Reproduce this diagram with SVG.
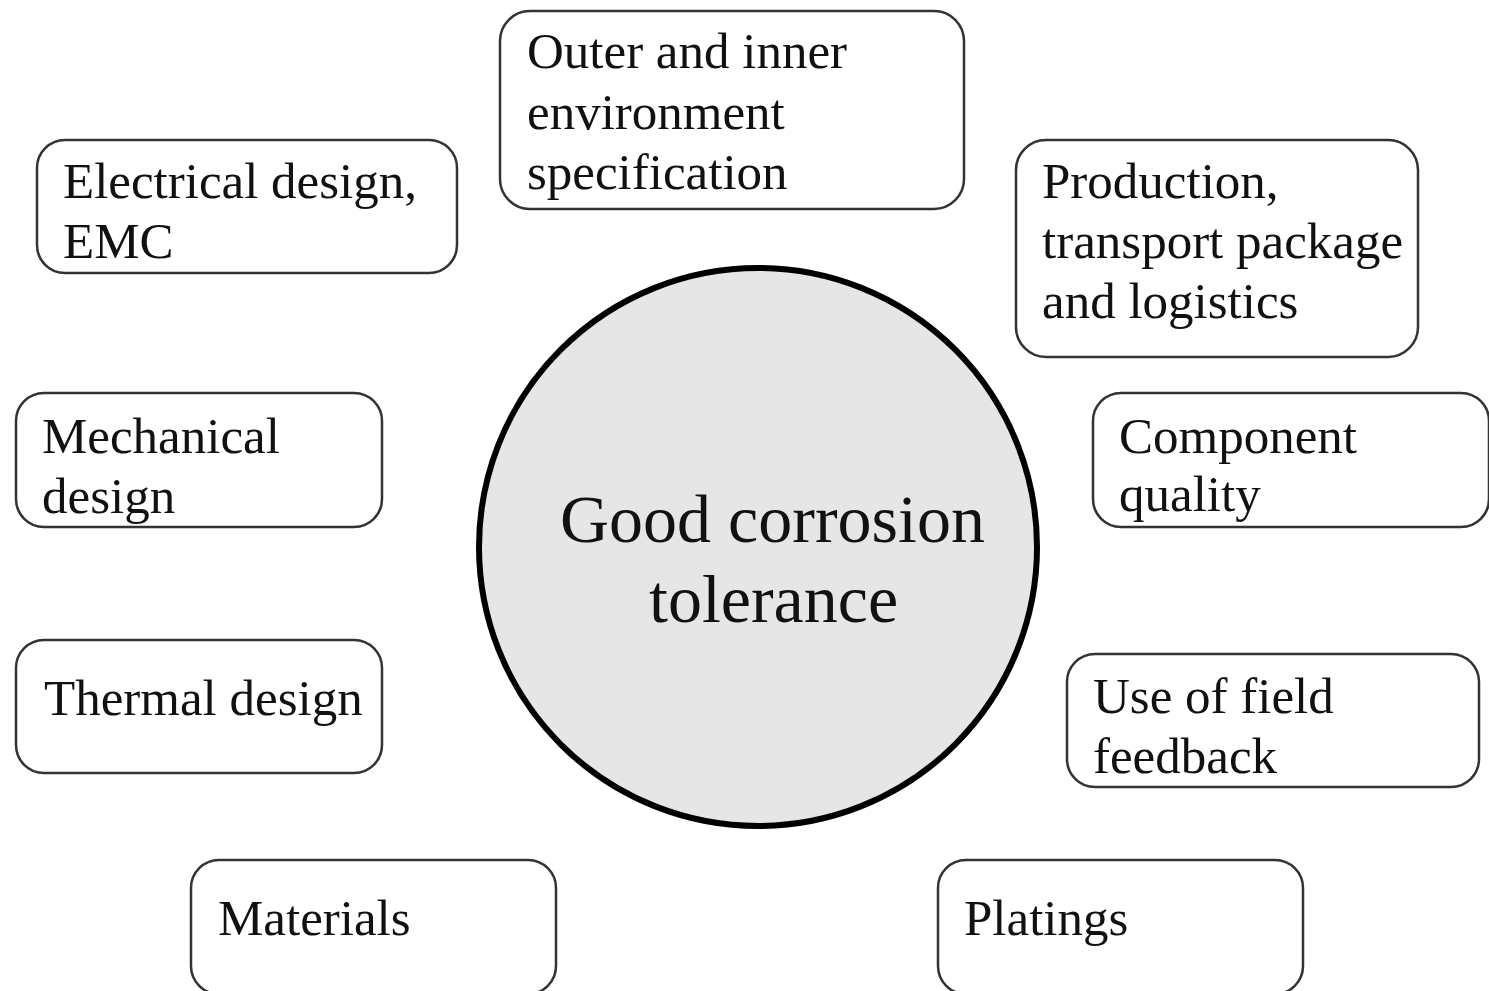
<svg xmlns="http://www.w3.org/2000/svg" width="1489" height="991" viewBox="0 0 1489 991">
<style>
.box{fill:#fff;stroke:#333;stroke-width:2.5}
.t{font-family:"Liberation Serif","Times New Roman",serif;font-size:51px;fill:#111}
.c{font-family:"Liberation Serif","Times New Roman",serif;font-size:68px;fill:#111}
</style>
<rect width="1489" height="991" fill="#fff"/>
<g id="connectors"></g>
<g id="center">
<circle cx="758" cy="547" r="279" fill="#e6e6e6" stroke="#000" stroke-width="6"/>
<text class="c" x="560" y="542">Good corrosion</text>
<text class="c" x="649" y="622">tolerance</text>
</g>
<g id="outer">
<rect class="box" x="500" y="11" width="464" height="198" rx="30"/>
<text class="t" x="527" y="68">Outer and inner</text>
<text class="t" x="527" y="129">environment</text>
<text class="t" x="527" y="189">specification</text>
</g>
<g id="electrical">
<rect class="box" x="37" y="140" width="420" height="133" rx="28"/>
<text class="t" x="63" y="198">Electrical design,</text>
<text class="t" x="63" y="258">EMC</text>
</g>
<g id="production">
<rect class="box" x="1016" y="140" width="402" height="217" rx="30"/>
<text class="t" x="1042" y="198">Production,</text>
<text class="t" x="1042" y="258">transport package</text>
<text class="t" x="1042" y="318">and logistics</text>
</g>
<g id="mechanical">
<rect class="box" x="16" y="393" width="366" height="134" rx="28"/>
<text class="t" x="42" y="453">Mechanical</text>
<text class="t" x="42" y="513">design</text>
</g>
<g id="component">
<rect class="box" x="1093" y="393" width="396" height="134" rx="28"/>
<text class="t" x="1119" y="453">Component</text>
<text class="t" x="1119" y="511">quality</text>
</g>
<g id="thermal">
<rect class="box" x="16" y="640" width="366" height="133" rx="28"/>
<text class="t" x="44" y="715">Thermal design</text>
</g>
<g id="feedback">
<rect class="box" x="1067" y="654" width="412" height="133" rx="28"/>
<text class="t" x="1093" y="713">Use of field</text>
<text class="t" x="1093" y="773">feedback</text>
</g>
<g id="materials">
<rect class="box" x="191" y="860" width="365" height="134" rx="28"/>
<text class="t" x="218" y="935">Materials</text>
</g>
<g id="platings">
<rect class="box" x="938" y="860" width="365" height="134" rx="28"/>
<text class="t" x="964" y="935">Platings</text>
</g>
</svg>
